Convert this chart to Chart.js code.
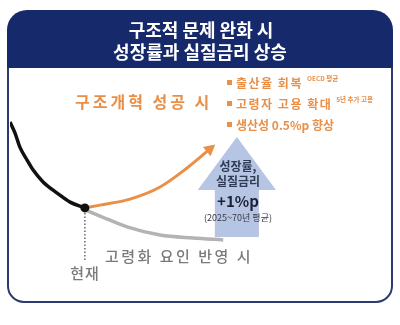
<!DOCTYPE html>
<html><head><meta charset="utf-8">
<script src="https://cdn.jsdelivr.net/npm/chart.js@4"></script>
<style>html,body{margin:0;padding:0;background:#fff;}#wrap{width:400px;height:325px;}</style>
</head><body><div id="wrap"><canvas id="c" width="400" height="325"></canvas></div>
<script>
// Conceptual curves (x: time, y: level, arbitrary units 0..100)
const pastX = [0, 1.3, 2.6, 4.5, 6.1, 8.7, 12.4, 15.8, 19.7];
const pastY = [76.7, 72.0, 65.9, 60.3, 56.0, 50.9, 46.1, 42.2, 39.7];
const reformX = [19.7, 23.7, 31.6, 39.5, 46.6, 53.2];
const reformY = [39.7, 40.9, 43.5, 48.7, 56.9, 65.9];
const agingX = [19.7, 23.7, 30.8, 39.5, 48.2, 56.1];
const agingY = [38.8, 36.2, 31.5, 28.0, 26.7, 25.9];
const nowX = [19.7, 19.7];
const nowY = [37.5, 16.4];
// Big arrow (data units): centre x, tip, head base, bottom, half widths
const arrowX = 59.7, arrowTip = 70.3, arrowHeadBase = 47.4, arrowBottom = 27.2, arrowHeadHalf = 10.3, arrowShaftHalf = 5.8;

const titleLines = ['구조적 문제 완화 시', '성장률과 실질금리 상승'];
const reformLabel = '구조개혁 성공 시';
const bullets = [['출산율 회복', 'OECD 평균'], ['고령자 고용 확대', '5년 추가 고용'], ['생산성 0.5%p 향상', '']];
const arrowLabels = ['성장률,', '실질금리', '+1%p', '(2025~70년 평균)'];
const agingLabel = '고령화 요인 반영 시';
const nowLabel = '현재';

const NAVY = '#16296b', ORANGE = '#e98f47', FONT = '"Noto Sans CJK KR", "Noto Sans", sans-serif';
const pts = (xs, ys) => xs.map((x, i) => ({x, y: ys[i]}));

function rr(ctx, x, y, w, h, r) { ctx.beginPath(); ctx.roundRect(x, y, w, h, r); }

const deco = {
  id: 'deco',
  beforeDatasetsDraw(chart) {
    const ctx = chart.ctx, xs = chart.scales.x, ys = chart.scales.y;
    ctx.save();
    // frame
    ctx.strokeStyle = '#2c3a72'; ctx.lineWidth = 2;
    rr(ctx, 8, 40, 384, 262, [0, 0, 16, 16]); ctx.stroke();
    ctx.fillStyle = NAVY;
    rr(ctx, 7, 10, 386, 58, [20, 20, 0, 0]); ctx.fill();
    // title
    ctx.fillStyle = '#fff'; ctx.textAlign = 'center'; ctx.textBaseline = 'middle';
    ctx.font = 'bold 18px ' + FONT;
    ctx.fillText(titleLines[0], 201, 30);
    ctx.fillText(titleLines[1], 200, 52);
    // big arrow
    const cx = xs.getPixelForValue(arrowX);
    const hw = xs.getPixelForValue(arrowX + arrowHeadHalf) - cx;
    const sw = xs.getPixelForValue(arrowX + arrowShaftHalf) - cx;
    const ty = ys.getPixelForValue(arrowTip), hb = ys.getPixelForValue(arrowHeadBase), by = ys.getPixelForValue(arrowBottom);
    ctx.fillStyle = '#b6c5e3';
    ctx.beginPath();
    ctx.moveTo(cx, ty); ctx.lineTo(cx + hw, hb); ctx.lineTo(cx + sw, hb); ctx.lineTo(cx + sw, by);
    ctx.lineTo(cx - sw, by); ctx.lineTo(cx - sw, hb); ctx.lineTo(cx - hw, hb); ctx.closePath(); ctx.fill();
    ctx.restore();
  },
  afterDatasetsDraw(chart) {
    const ctx = chart.ctx;
    ctx.save();
    // orange arrowhead
    const meta = chart.getDatasetMeta(1).data;
    const p1 = meta[meta.length - 2], p2 = meta[meta.length - 1];
    const a = Math.atan2(p2.y - p1.y, p2.x - p1.x);
    ctx.fillStyle = ORANGE;
    ctx.beginPath();
    ctx.moveTo(p2.x + 4 * Math.cos(a), p2.y + 4 * Math.sin(a));
    ctx.lineTo(p2.x - 7 * Math.cos(a) + 6 * Math.sin(a), p2.y - 7 * Math.sin(a) - 6 * Math.cos(a));
    ctx.lineTo(p2.x - 7 * Math.cos(a) - 6 * Math.sin(a), p2.y - 7 * Math.sin(a) + 6 * Math.cos(a));
    ctx.closePath(); ctx.fill();
    // orange labels
    ctx.textBaseline = 'middle'; ctx.textAlign = 'left';
    ctx.fillStyle = ORANGE;
    ctx.font = 'bold 16px ' + FONT; ctx.letterSpacing = '3px';
    ctx.fillText(reformLabel, 75, 102);
    bullets.forEach((b, i) => {
      const y = 83 + i * 21;
      ctx.fillRect(227, y - 3, 5, 5);
      ctx.font = 'bold 12px ' + FONT;
      ctx.letterSpacing = b[1] ? '1.5px' : '0px';
      ctx.fillText(b[0], 236, y);
      const w = ctx.measureText(b[0]).width;
      ctx.letterSpacing = '0px';
      if (b[1]) { ctx.font = 'bold 6.5px ' + FONT; ctx.fillText(b[1], 236 + w + 4, y - 4); }
    });
    // arrow labels
    ctx.textAlign = 'center';
    ctx.fillStyle = '#2f3a55';
    ctx.font = 'bold 12px ' + FONT;
    ctx.fillText(arrowLabels[0], 238, 166);
    ctx.fillText(arrowLabels[1], 238, 181);
    ctx.fillStyle = '#1d2033';
    ctx.font = 'bold 15px ' + FONT;
    ctx.fillText(arrowLabels[2], 238, 201);
    ctx.fillStyle = '#3a3a48';
    ctx.font = '9px ' + FONT;
    ctx.fillText(arrowLabels[3], 238, 218);
    // gray labels
    ctx.fillStyle = '#7a7a7a';
    ctx.font = '500 15px ' + FONT; ctx.letterSpacing = '2.5px';
    ctx.textAlign = 'left';
    ctx.fillText(agingLabel, 105, 256);
    ctx.textAlign = 'center'; ctx.font = '500 15px ' + FONT; ctx.letterSpacing = '1px';
    ctx.fillText(nowLabel, 85, 273);
    ctx.restore();
  }
};

new Chart(document.getElementById('c'), {
  type: 'line',
  data: {
    datasets: [
      {data: pts(pastX, pastY), borderColor: '#111', borderWidth: 3.5, tension: 0.4, cubicInterpolationMode: 'monotone',
       pointRadius: pastX.map((_, i) => i === pastX.length - 1 ? 4.5 : 0), pointBackgroundColor: '#111', pointBorderWidth: 0, order: 0},
      {data: pts(reformX, reformY), borderColor: ORANGE, borderWidth: 3, tension: 0.4, cubicInterpolationMode: 'monotone', pointRadius: 0, order: 2},
      {data: pts(agingX, agingY), borderColor: '#b3b3b3', borderWidth: 3.5, tension: 0.4, cubicInterpolationMode: 'monotone', pointRadius: 0, order: 3},
      {data: pts(nowX, nowY), borderColor: '#666', borderWidth: 1.5, borderDash: [1.5, 2], pointRadius: 0, order: 4}
    ]
  },
  options: {
    responsive: false, animation: false, devicePixelRatio: 1,
    layout: {padding: {left: 10, right: 10, top: 68, bottom: 25}},
    plugins: {legend: {display: false}, tooltip: {enabled: false}},
    scales: {
      x: {type: 'linear', min: 0, max: 100, display: false},
      y: {type: 'linear', min: 0, max: 100, display: false}
    }
  },
  plugins: [deco]
});
</script></body></html>
